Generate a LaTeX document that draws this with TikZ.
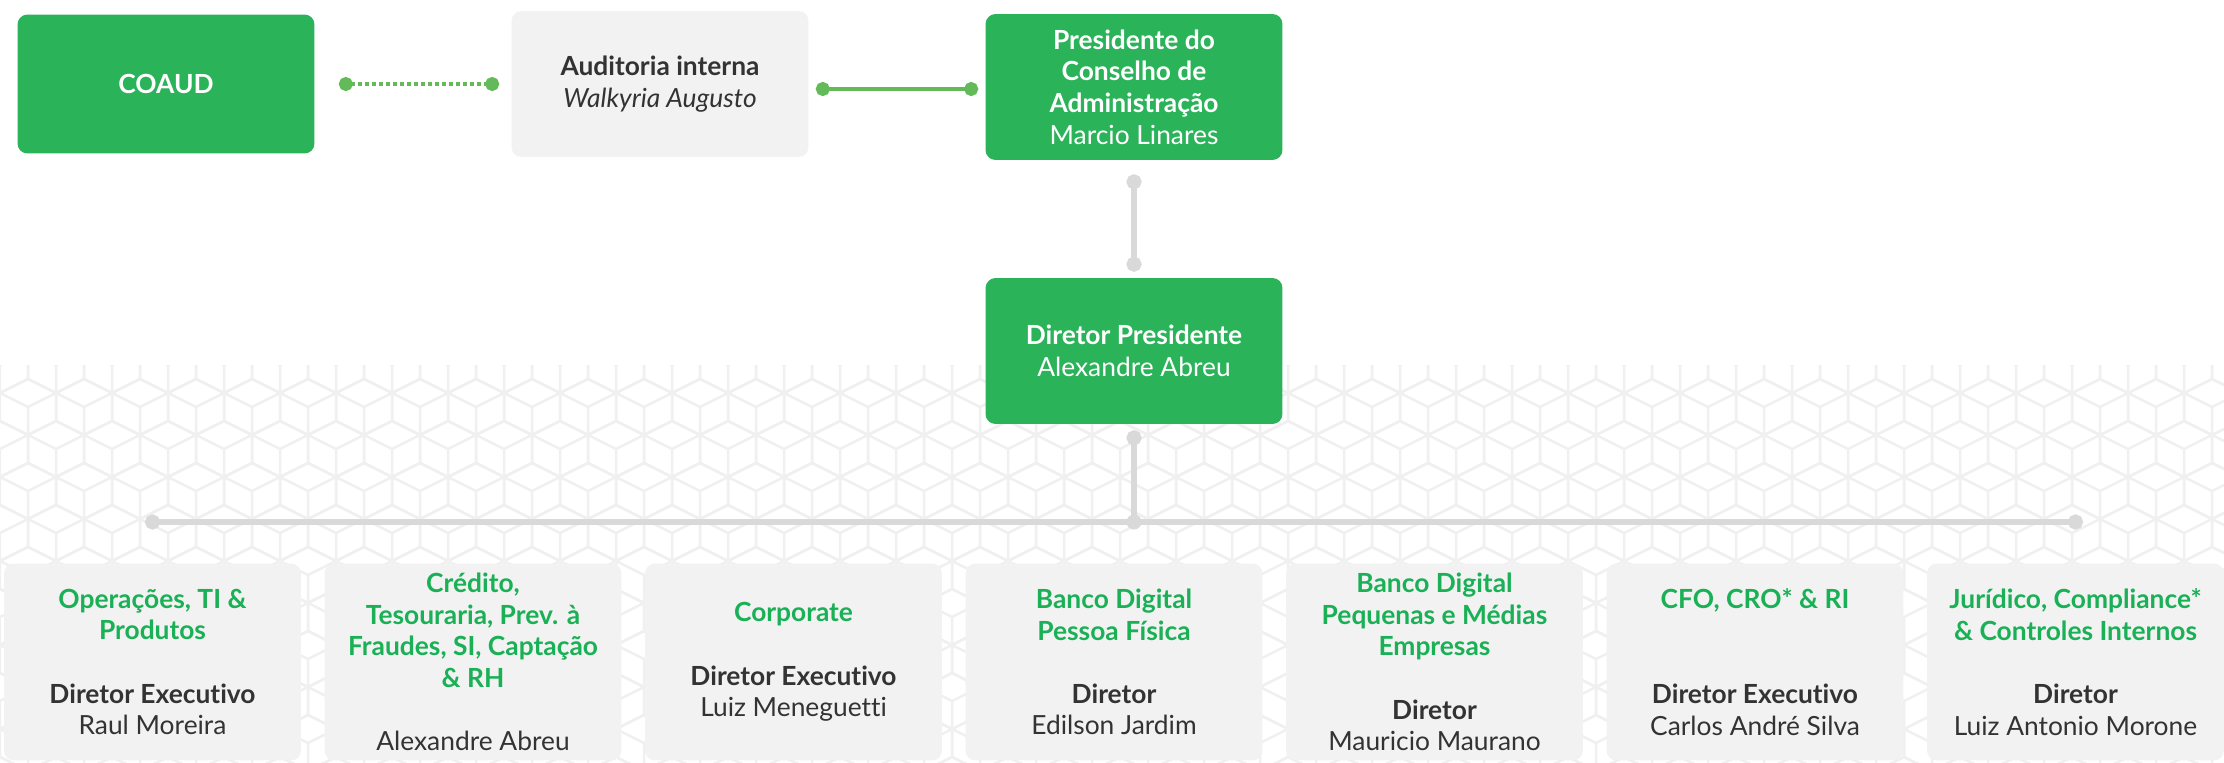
\documentclass[tikz,border=0pt]{standalone}
\usepackage{fontspec}
\setmainfont{Lato}[Ligatures=NoCommon]
\usepackage{xcolor}
\usetikzlibrary{arrows.meta}

\definecolor{boxgreen}{RGB}{43,179,90}
\definecolor{linkgreen}{RGB}{98,187,88}
\definecolor{headgreen}{RGB}{26,176,86}
\definecolor{boxgray}{RGB}{242,242,242}
\definecolor{linkgray}{RGB}{217,217,217}
\definecolor{textdark}{RGB}{51,51,51}
\definecolor{patterngray}{RGB}{240,240,240}

\newcommand{\area}[1]{{\bfseries\color{headgreen}#1}}

\begin{document}
\begin{tikzpicture}[x=0.02cm, y=-0.02cm,
    ball/.tip={Circle[length=0.3cm]},
    smallball/.tip={Circle[length=0.28cm]},
    orgbox/.style={rounded corners=0.2cm, align=center, minimum width=5.94cm, minimum height=2.92cm, font=\fontsize{15}{18}\selectfont},
    greenbox/.style={orgbox, fill=boxgreen, text=white},
    graybox/.style={orgbox, fill=boxgray, text=textdark},
    unitbox/.style={graybox, minimum height=3.94cm},
    greenlink/.style={linkgreen, line width=0.08cm, smallball-smallball},
    graylink/.style={linkgray, line width=0.12cm}]
        \useasboundingbox (0,0) rectangle (2224,762);
        % background
        \begin{scope}
            \clip (0,365) rectangle (2224,762);
            \foreach \r in {0,...,10}
                \foreach \k in {0,...,40} {
                    \pgfmathsetmacro\cx{56*\k+28*mod(\r,2)}
                    \pgfmathsetmacro\cy{365+42*\r}
                    \draw[patterngray, line width=0.05cm] (\cx-28,\cy-14) -- (\cx,\cy-28) -- (\cx+28,\cy-14) -- (\cx+28,\cy+14) -- (\cx,\cy+28) -- (\cx-28,\cy+14) -- cycle
                        (\cx-28,\cy-14) -- (\cx,\cy) -- (\cx+28,\cy-14) (\cx,\cy) -- (\cx,\cy+28);
                }
        \end{scope}
        % board
        \node[greenbox, minimum height=2.78cm] (coaud) at (166,84) {\textbf{COAUD}};
        \node[graybox] (audit) at (660,84) {\textbf{Auditoria interna}\\\textit{Walkyria Augusto}};
        \node[greenbox] (pca) at (1134,87) {\textbf{Presidente do}\\\textbf{Conselho de}\\\textbf{Administração}\\Marcio Linares};
        \node[greenbox] (dp) at (1134,351) {\textbf{Diretor Presidente}\\Alexandre Abreu};
        \draw[greenlink, line width=0.07cm, dash pattern=on 0.07cm off 0.07cm, shorten <=0.48cm, shorten >=0.24cm] (coaud) -- (audit);
        \draw[greenlink, shorten <=0.14cm, shorten >=0.14cm] ([yshift=-0.1cm]audit.east) -- ([yshift=-0.1cm]audit.east -| pca.west);
        \draw[graylink, ball-ball, shorten <=0.28cm, shorten >=0.12cm] (pca) -- (dp);
        % units
        \node[unitbox] (ops) at (152.5,662) {\area{Operações, TI \&}\\\area{Produtos}\\[18pt]\textbf{Diretor Executivo}\\Raul Moreira};
        \node[unitbox] (credit) at (473,662) {\area{Crédito,}\\\area{Tesouraria, Prev. à}\\\area{Fraudes, SI, Captação}\\\area{\& RH}\\[18pt]Alexandre Abreu};
        \node[unitbox] (corp) at (793.5,662) {\area{Corporate}\\[18pt]\textbf{Diretor Executivo}\\Luiz Meneguetti};
        \node[unitbox] (pf) at (1114,662) {\area{Banco Digital}\\\area{Pessoa Física}\\[18pt]\textbf{Diretor}\\Edilson Jardim};
        \node[unitbox] (pme) at (1434.5,662) {\area{Banco Digital}\\\area{Pequenas e Médias}\\\area{Empresas}\\[18pt]\textbf{Diretor}\\Mauricio Maurano};
        \node[unitbox] (cfo) at (1755,662) {\area{CFO, CRO* \& RI}\\[36pt]\textbf{Diretor Executivo}\\Carlos André Silva};
        \node[unitbox] (legal) at (2075.5,662) {\area{Jurídico, Compliance*}\\\area{\& Controles Internos}\\[18pt]\textbf{Diretor}\\Luiz Antonio Morone};
        % tree
        \coordinate (bus) at (1134,522);
        \draw[graylink, ball-, shorten <=0.12cm] (dp) -- (bus);
        \draw[graylink, ball-ball, shorten <=-0.15cm, shorten >=-0.15cm] (bus -| ops) -- (bus -| legal);
        \fill[linkgray] (bus) circle (0.15cm);
\end{tikzpicture}
\end{document}
